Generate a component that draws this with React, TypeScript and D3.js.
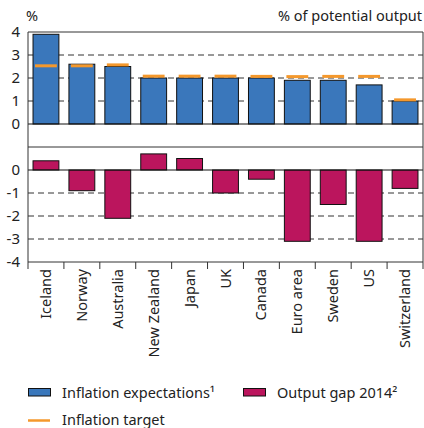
import React from "react";
import * as d3 from "d3";

const categories = ["Iceland", "Norway", "Australia", "New Zealand", "Japan", "UK", "Canada", "Euro area", "Sweden", "US", "Switzerland"];
const inflationExpectations = [3.9, 2.6, 2.5, 2.0, 2.0, 2.0, 2.0, 1.9, 1.9, 1.7, 1.0];
const inflationTarget = [2.53, 2.53, 2.57, 2.08, 2.08, 2.08, 2.07, 2.06, 2.07, 2.07, 1.05];
const outputGap = [0.4, -0.9, -2.1, 0.7, 0.5, -1.0, -0.4, -3.1, -1.5, -3.1, -0.8];
const topTicks = [4, 3, 2, 1, 0];
const bottomTicks = [0, -1, -2, -3, -4];

const W = 424;
const H = 428;
const left = 28;
const right = 423;
const topY0 = 32;
const topY1 = 147;
const botY0 = 147;
const botY1 = 262;
const FONT = "'Noto Sans', sans-serif";
const BLUE = "#3a77bb";
const MAGENTA = "#bb155d";
const ORANGE = "#f4982c";

export default function App() {
  const x = d3.scaleBand<string>().domain(categories).range([left, right]).paddingInner(0.28).paddingOuter(0.14);
  const yTop = d3.scaleLinear().domain([-1, 4]).range([topY1, topY0]);
  const yBot = d3.scaleLinear().domain([-4, 1]).range([botY1, botY0]);
  const step = (right - left) / categories.length;
  const bw = x.bandwidth();

  return (
    <svg width={W} height={H} style={{ position: "absolute", left: 0, top: 0 }} fontFamily={FONT}>
      <rect x={0} y={0} width={W} height={H} fill="#fff" />
      <text x={26} y={21} fontSize={14.5} fill="#222">%</text>
      <text x={422} y={21} fontSize={14.5} fill="#222" textAnchor="end">% of potential output</text>

      {[3, 2, 1].map((v) => (
        <line key={"tg" + v} x1={left} x2={right} y1={yTop(v)} y2={yTop(v)} stroke="#333" strokeDasharray="6,4" strokeWidth={1} />
      ))}
      {[3, 2, 1].map((v) => (
        <line key={"bg" + v} x1={left} x2={right} y1={yBot(-v)} y2={yBot(-v)} stroke="#333" strokeDasharray="6,4" strokeWidth={1} />
      ))}

      {categories.map((c, i) => (
        <rect key={"ib" + c} x={x(c)!} y={yTop(inflationExpectations[i])} width={bw} height={yTop(0) - yTop(inflationExpectations[i])} fill={BLUE} stroke="#111" strokeWidth={1} />
      ))}
      {categories.map((c, i) => (
        <line key={"it" + c} x1={x(c)! + 2} x2={x(c)! + bw - 2} y1={yTop(inflationTarget[i])} y2={yTop(inflationTarget[i])} stroke={ORANGE} strokeWidth={3} />
      ))}

      {categories.map((c, i) => {
        const v = outputGap[i];
        return (
          <rect key={"og" + c} x={x(c)!} y={yBot(Math.max(0, v))} width={bw} height={Math.abs(yBot(v) - yBot(0))} fill={MAGENTA} stroke="#111" strokeWidth={1} />
        );
      })}

      <line x1={left} x2={right} y1={yTop(0)} y2={yTop(0)} stroke="#111" strokeWidth={1} />
      <line x1={left} x2={right} y1={yBot(0)} y2={yBot(0)} stroke="#111" strokeWidth={1} />

      <line x1={left} x2={right} y1={topY0} y2={topY0} stroke="#333" strokeWidth={1} />
      <line x1={left} x2={right} y1={topY1} y2={topY1} stroke="#333" strokeWidth={1} />
      <line x1={left} x2={right} y1={botY1} y2={botY1} stroke="#333" strokeWidth={1} />
      <line x1={left} x2={left} y1={topY0} y2={botY1} stroke="#333" strokeWidth={1} />
      <line x1={right} x2={right} y1={topY0} y2={botY1} stroke="#333" strokeWidth={1} />

      {topTicks.map((v) => (
        <text key={"tt" + v} x={20} y={yTop(v)} dy="0.35em" fontSize={15} fill="#222" textAnchor="end">{v}</text>
      ))}
      {bottomTicks.map((v) => (
        <text key={"bt" + v} x={20} y={yBot(v)} dy="0.35em" fontSize={15} fill="#222" textAnchor="end">{v}</text>
      ))}

      {d3.range(categories.length + 1).map((k) => (
        <line key={"xt" + k} x1={left + k * step} x2={left + k * step} y1={botY1} y2={botY1 + 7} stroke="#333" strokeWidth={1} />
      ))}
      {categories.map((c) => {
        const cx = x(c)! + bw / 2;
        return (
          <text key={"xl" + c} transform={`translate(${cx + 5},${269}) rotate(-90)`} fontSize={14.5} fill="#222" textAnchor="end">{c}</text>
        );
      })}

      <rect x={28.5} y={388.5} width={22} height={7.5} fill={BLUE} stroke="#111" strokeWidth={1} />
      <text x={62} y={398} fontSize={14.5} fill="#222">Inflation expectations¹</text>
      <rect x={243.5} y={388.5} width={22} height={7.5} fill={MAGENTA} stroke="#111" strokeWidth={1} />
      <text x={277} y={398} fontSize={14.5} fill="#222">Output gap 2014²</text>
      <line x1={28} x2={50} y1={420.5} y2={420.5} stroke={ORANGE} strokeWidth={2.5} />
      <text x={62} y={424.5} fontSize={14.5} fill="#222">Inflation target</text>
    </svg>
  );
}
